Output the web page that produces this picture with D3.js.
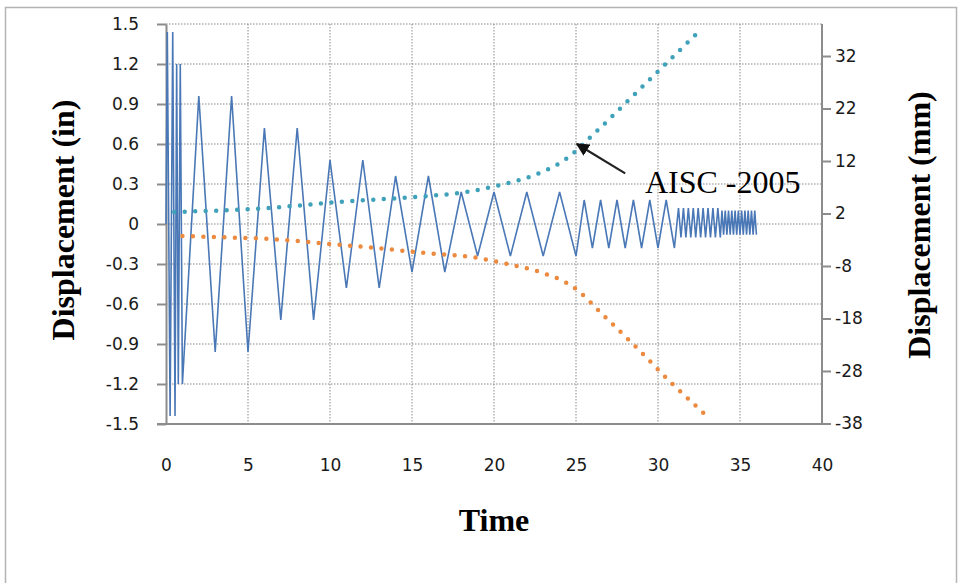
<!DOCTYPE html>
<html>
<head>
<meta charset="utf-8">
<script src="https://cdn.jsdelivr.net/npm/d3@7"></script>
<style>
  body { margin: 0; background: #fff; }
  .tick text { font-family: "DejaVu Sans", sans-serif; font-size: 17px; fill: #1a1a1a; }
  .axis-title { font-family: "Liberation Serif", "Times New Roman", serif; font-weight: bold; font-size: 32px; fill: #000; }
  .note { font-family: "Liberation Serif", "Times New Roman", serif; font-size: 32px; fill: #000; }
</style>
</head>
<body>
<svg id="chart"></svg>
<script>
const width = 959;
const height = 583;

// --- Data ---
const timeTicks = [0, 5, 10, 15, 20, 25, 30, 35, 40];
const inTicks = [-1.5, -1.2, -0.9, -0.6, -0.3, 0, 0.3, 0.6, 0.9, 1.2, 1.5];
const inLabels = ["-1.5", "-1.2", "-0.9", "-0.6", "-0.3", "0", "0.3", "0.6", "0.9", "1.2", "1.5"];
const mmTicks = [-38, -28, -18, -8, 2, 12, 22, 32];

// measured response [time, displacement in]
const response = [
  [0, 0], [0.08, 1.44], [0.25, -1.44], [0.41, 1.44], [0.55, -1.44],
  [0.65, 1.2], [0.75, -1.2], [0.87, 1.2], [1.0, -1.2],
  [2, 0.96], [3, -0.96], [4, 0.96], [5, -0.96],
  [6, 0.72], [7, -0.72], [8, 0.72], [9, -0.72],
  [10, 0.48], [11, -0.48], [12, 0.48], [13, -0.48],
  [14, 0.36], [15, -0.36], [16, 0.36], [17, -0.36],
  [18, 0.24], [19, -0.24], [20, 0.24], [21, -0.24],
  [22, 0.24], [23, -0.24], [24, 0.24], [25, -0.24],
  [25.5, 0.18], [26, -0.18], [26.5, 0.18], [27, -0.18], [27.5, 0.18], [28, -0.18],
  [28.5, 0.18], [29, -0.18], [29.5, 0.18], [30, -0.18], [30.5, 0.18], [31, -0.18],
  [31.25, 0.12], [31.4, -0.1], [31.55, 0.12], [31.7, -0.1], [31.85, 0.12], [32.0, -0.1],
  [32.15, 0.12], [32.3, -0.1], [32.45, 0.12], [32.6, -0.1], [32.75, 0.12], [32.9, -0.1],
  [33.05, 0.12], [33.2, -0.1], [33.35, 0.12], [33.5, -0.1], [33.65, 0.12], [33.8, -0.1],
  [33.9, 0.1], [34.0, -0.08], [34.1, 0.1], [34.2, -0.08], [34.3, 0.1], [34.4, -0.08],
  [34.5, 0.1], [34.6, -0.08], [34.7, 0.1], [34.8, -0.08], [34.9, 0.1], [35.0, -0.08],
  [35.1, 0.1], [35.2, -0.08], [35.3, 0.1], [35.4, -0.08], [35.5, 0.1], [35.6, -0.08],
  [35.7, 0.1], [35.8, -0.08], [35.9, 0.1], [36.0, -0.08]
];

// AISC-2005 envelope, upper and lower [time, displacement in]
const aiscUpper = [
  [0.5, 0.09], [3, 0.1], [6.3, 0.12], [10, 0.16], [12.3, 0.18], [16, 0.21],
  [18.3, 0.24], [20.3, 0.29], [22.3, 0.36], [24.3, 0.48], [26.3, 0.7],
  [28.3, 0.94], [30.3, 1.18], [32.3, 1.42]
];
const aiscLower = [
  [1.0, -0.09], [3.5, -0.1], [6, -0.11], [10, -0.15], [12.8, -0.18], [16, -0.22],
  [18.8, -0.25], [20.8, -0.3], [22.8, -0.36], [24.8, -0.47], [26.8, -0.7],
  [28.8, -0.94], [30.8, -1.19], [32.8, -1.42]
];

// annotation anchor points in data units
const noteText = "AISC -2005";
const arrowFrom = [28, 0.38];
const arrowTo = [25.05, 0.6];
const noteAt = [29.2, 0.235];

const svg = d3.select("#chart")
  .attr("width", width)
  .attr("height", height);

// --- Scales ---
const x = d3.scaleLinear().domain([0, 40]).range([166, 822]);
const yIn = d3.scaleLinear().domain([-1.5, 1.5]).range([424, 24]);
const yMm = d3.scaleLinear().domain([-38.1, 38.1]).range([424, 24]);

// --- Outer frame ---
svg.append("rect")
  .attr("x", 5.5).attr("y", 7.5)
  .attr("width", 951).attr("height", 600)
  .attr("fill", "none")
  .attr("stroke", "#b4b4b4")
  .attr("stroke-width", 1.5);

// --- Gridlines (dotted) ---
const gGrid = svg.append("g");
gGrid.selectAll(".hgrid")
  .data(inTicks.filter(d => d > -1.5))
  .join("line")
  .attr("x1", x(0)).attr("x2", x(40))
  .attr("y1", d => yIn(d)).attr("y2", d => yIn(d));
gGrid.selectAll(".vgrid")
  .data(timeTicks.filter(d => d > 0 && d < 40))
  .join("line")
  .attr("x1", d => x(d)).attr("x2", d => x(d))
  .attr("y1", yIn(1.5)).attr("y2", yIn(-1.5));
gGrid.selectAll("line")
  .attr("stroke", "#8a8a8a")
  .attr("stroke-width", 1)
  .attr("stroke-dasharray", "1.5,1.5");

// --- Axes ---
const styleAxis = g => {
  g.selectAll(".domain, .tick line").attr("stroke", "#8c8c8c").attr("stroke-width", 2);
};

svg.append("g")
  .attr("transform", `translate(${x(0)},0)`)
  .call(d3.axisLeft(yIn).tickValues(inTicks).tickSize(9).tickSizeOuter(0).tickPadding(18)
    .tickFormat((d, i) => inLabels[i]))
  .call(styleAxis);

svg.append("g")
  .attr("transform", `translate(${x(40)},0)`)
  .call(d3.axisRight(yMm).tickValues(mmTicks).tickSize(9).tickSizeOuter(0).tickPadding(4)
    .tickFormat(d => String(d)))
  .call(styleAxis)
  .call(g => g.select(".domain").attr("d", `M0,${yIn(1.5)}V${yIn(-1.5)}`));

svg.append("g")
  .attr("transform", `translate(0,${yIn(-1.5)})`)
  .call(d3.axisBottom(x).tickValues(timeTicks).tickSize(0).tickPadding(35)
    .tickFormat(d => String(d)))
  .call(styleAxis)
  .call(g => g.select(".domain").attr("d", `M${x(0) - 9},0H${x(40) + 9}`));

// --- Series ---
const line = d3.line().x(d => x(d[0])).y(d => yIn(d[1]));
const smooth = d3.line().x(d => x(d[0])).y(d => yIn(d[1])).curve(d3.curveMonotoneX);

svg.append("path")
  .datum(response)
  .attr("d", line)
  .attr("fill", "none")
  .attr("stroke", "#4a78b6")
  .attr("stroke-width", 1.6)
  .attr("stroke-linejoin", "miter");

svg.append("path")
  .datum(aiscUpper)
  .attr("d", smooth)
  .attr("fill", "none")
  .attr("stroke", "#3fa2ba")
  .attr("stroke-width", 4.5)
  .attr("stroke-linecap", "round")
  .attr("stroke-dasharray", "0,10.5");

svg.append("path")
  .datum(aiscLower)
  .attr("d", smooth)
  .attr("fill", "none")
  .attr("stroke", "#ec8a3f")
  .attr("stroke-width", 4.5)
  .attr("stroke-linecap", "round")
  .attr("stroke-dasharray", "0,10.5");

// --- Annotation ---
svg.append("defs").append("marker")
  .attr("id", "arrow")
  .attr("viewBox", "0 0 10 10")
  .attr("refX", 9).attr("refY", 5)
  .attr("markerWidth", 6).attr("markerHeight", 6)
  .attr("markerUnits", "strokeWidth")
  .attr("orient", "auto")
  .append("path")
  .attr("d", "M0,0L10,5L0,10Z")
  .attr("fill", "#111");

svg.append("line")
  .attr("x1", x(arrowFrom[0])).attr("y1", yIn(arrowFrom[1]))
  .attr("x2", x(arrowTo[0])).attr("y2", yIn(arrowTo[1]))
  .attr("stroke", "#222")
  .attr("stroke-width", 2.2)
  .attr("marker-end", "url(#arrow)");

svg.append("text")
  .attr("class", "note")
  .attr("x", x(noteAt[0])).attr("y", yIn(noteAt[1]))
  .text(noteText);

// --- Axis titles ---
svg.append("text")
  .attr("class", "axis-title")
  .attr("text-anchor", "middle")
  .attr("transform", "translate(74,220) rotate(-90)")
  .text("Displacement (in)");

svg.append("text")
  .attr("class", "axis-title")
  .attr("text-anchor", "middle")
  .attr("transform", "translate(930,225) rotate(-90)")
  .text("Displacement (mm)");

svg.append("text")
  .attr("class", "axis-title")
  .attr("text-anchor", "middle")
  .attr("x", x(20)).attr("y", 531)
  .text("Time");
</script>
</body>
</html>
